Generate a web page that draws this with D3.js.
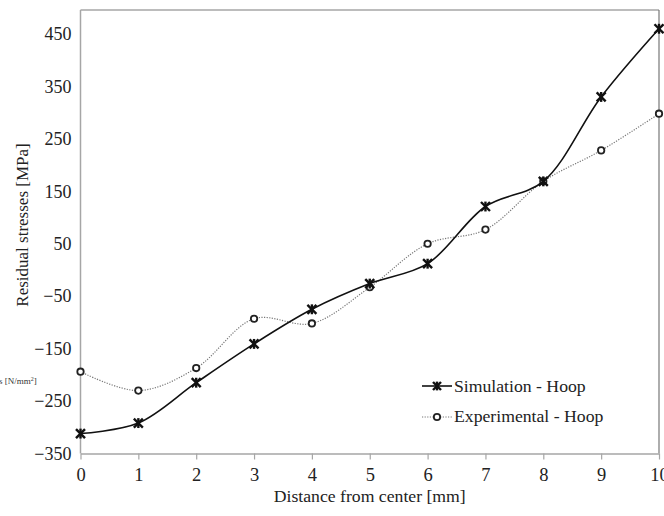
<!DOCTYPE html>
<html>
<head>
<meta charset="utf-8">
<script src="https://cdn.jsdelivr.net/npm/d3@7"></script>
<style>
  body { margin: 0; background: #fff; }
</style>
</head>
<body>
<script>
// data
const distances = [0, 1, 2, 3, 4, 5, 6, 7, 8, 9, 10];
const simulationHoop = [-312, -292, -215, -141, -75, -26, 12, 121, 169, 330, 460];
const experimentalHoop = [-194, -230, -187, -93, -102, -33, 50, 77, 169, 228, 298];
const yTicks = [-350, -250, -150, -50, 50, 150, 250, 350, 450];

const serif = "'Liberation Serif', 'Times New Roman', Tinos, 'DejaVu Serif', serif";

const margin = { top: 10, right: 5, bottom: 63, left: 80.5 };
const width = 664;
const height = 516;

const x = d3.scaleLinear().domain([0, 10]).range([margin.left, 659]);
const y = d3.scaleLinear().domain([-350, 450]).range([453.5, 34]);

const svg = d3.select('body').append('svg')
  .attr('width', width)
  .attr('height', height)
  .attr('font-family', serif);

const axisColor = '#a6a6a6';

// frame: top and right borders
svg.append('line')
  .attr('x1', margin.left).attr('x2', x(10))
  .attr('y1', margin.top).attr('y2', margin.top)
  .attr('stroke', axisColor).attr('stroke-width', 1.5);
svg.append('line')
  .attr('x1', x(10)).attr('x2', x(10))
  .attr('y1', margin.top).attr('y2', y(-350))
  .attr('stroke', '#777').attr('stroke-width', 1.2);

// x axis
const xAxis = svg.append('g')
  .attr('transform', `translate(0,${y(-350)})`)
  .call(d3.axisBottom(x).tickValues(distances).tickSize(6).tickSizeOuter(0).tickPadding(8));
xAxis.attr('font-family', serif).attr('font-size', 18.5);
xAxis.select('.domain').attr('stroke', axisColor).attr('stroke-width', 1.5);
xAxis.selectAll('.tick line').attr('stroke', axisColor).attr('stroke-width', 1.2);
xAxis.selectAll('.tick text').attr('fill', '#222');

// y axis
const yAxis = svg.append('g')
  .attr('transform', `translate(${margin.left},0)`)
  .call(d3.axisLeft(y).tickValues(yTicks).tickSize(0).tickPadding(9)
    .tickFormat(d => (d < 0 ? '\u2212' + Math.abs(d) : d)));
yAxis.attr('font-family', serif).attr('font-size', 18);
yAxis.select('.domain').attr('stroke', axisColor).attr('stroke-width', 1.5)
  .attr('d', `M0,${margin.top}V${y(-350)}`);
yAxis.selectAll('.tick text').attr('fill', '#222');

// axis titles
svg.append('text')
  .attr('x', (x(0) + x(10)) / 2)
  .attr('y', 502)
  .attr('text-anchor', 'middle')
  .attr('font-size', 17.7)
  .attr('fill', '#222')
  .text('Distance from center [mm]');

svg.append('text')
  .attr('transform', `translate(28,${225}) rotate(-90)`)
  .attr('text-anchor', 'middle')
  .attr('font-size', 17)
  .attr('fill', '#222')
  .text('Residual stresses [MPa]');

// leftover label fragment
const frag = svg.append('text')
  .attr('x', -1)
  .attr('y', 384)
  .attr('font-size', 9)
  .attr('fill', '#333');
frag.append('tspan').text('s [N/mm');
frag.append('tspan').attr('dy', -3).attr('font-size', 6).text('2');
frag.append('tspan').attr('dy', 3).text(']');

const line = d3.line()
  .x((d, i) => x(distances[i]))
  .y(d => y(d))
  .curve(d3.curveCatmullRom.alpha(0.5));

// experimental (dotted)
svg.append('path')
  .datum(experimentalHoop)
  .attr('d', line)
  .attr('fill', 'none')
  .attr('stroke', '#777')
  .attr('stroke-width', 1.2)
  .attr('stroke-dasharray', '1.2,1.4');

// simulation (solid)
svg.append('path')
  .datum(simulationHoop)
  .attr('d', line)
  .attr('fill', 'none')
  .attr('stroke', '#111')
  .attr('stroke-width', 1.6);

function star(g, cx, cy, r) {
  const s = g.append('g').attr('transform', `translate(${cx},${cy})`);
  [[-r, -r, r, r], [-r, r, r, -r], [0, -r * 1.1, 0, r * 1.1]].forEach(([a, b, c, d]) => {
    s.append('line')
      .attr('x1', a).attr('y1', b).attr('x2', c).attr('y2', d)
      .attr('stroke', '#111').attr('stroke-width', 2.4);
  });
}

function ring(g, cx, cy) {
  g.append('circle')
    .attr('cx', cx).attr('cy', cy).attr('r', 3.2)
    .attr('fill', '#fff')
    .attr('stroke', '#222')
    .attr('stroke-width', 1.8);
}

experimentalHoop.forEach((v, i) => ring(svg, x(distances[i]), y(v)));
simulationHoop.forEach((v, i) => star(svg, x(distances[i]), y(v), 4.5));

// legend
const legend = svg.append('g');
legend.append('line')
  .attr('x1', 422).attr('x2', 452).attr('y1', 386).attr('y2', 386)
  .attr('stroke', '#111').attr('stroke-width', 1.6);
star(legend, 437, 386, 4);
legend.append('text')
  .attr('x', 454).attr('y', 392)
  .attr('font-size', 17.7)
  .attr('fill', '#222')
  .text('Simulation - Hoop');

legend.append('line')
  .attr('x1', 422).attr('x2', 452).attr('y1', 417).attr('y2', 417)
  .attr('stroke', '#777').attr('stroke-width', 1.2)
  .attr('stroke-dasharray', '1.2,1.4');
ring(legend, 437, 417);
legend.append('text')
  .attr('x', 454).attr('y', 422)
  .attr('font-size', 17.7)
  .attr('fill', '#222')
  .text('Experimental - Hoop');
</script>
</body>
</html>
